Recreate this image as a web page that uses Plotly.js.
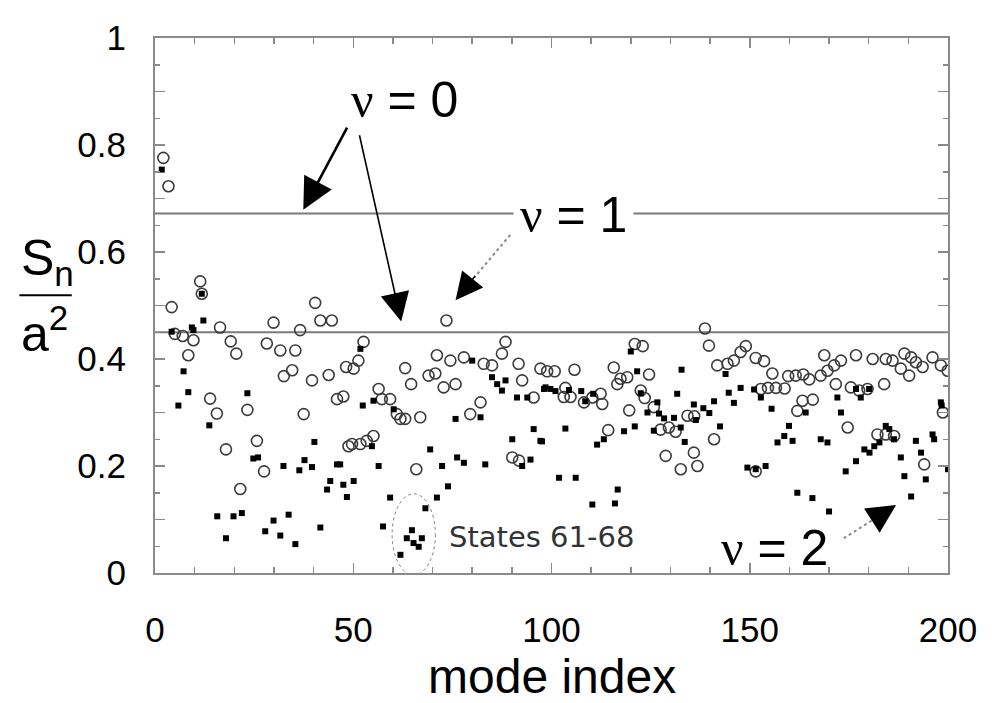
<!DOCTYPE html>
<html>
<head>
<meta charset="utf-8">
<script src="https://cdn.plot.ly/plotly-3.0.1.min.js"></script>
<style>html,body{margin:0;padding:0;background:#fff;}#chart{width:996px;height:703px;}</style>
</head>
<body>
<div id="chart"></div>
<script>
// open circles (mode index, S_n/a^2)
const circleX = [2.1,3.4,11.4,11.8,4.2,40.4,41.7,44.6,29.9,36.6,16.4,5,7,9.7,8.4,13.9,15.6,17.9,21.5,19.1,20.5,23.3,25.7,27.5,28.2,31.6,35.4,32.5,34.6,39.6,43.8,48.2,37.5,45.9,47.5,48.8,
73.5,52.6,51.3,50.1,56.4,57.2,59.3,61.0,61.9,63.1,66.9,63.1,64.6,69.0,70.7,71.1,74.5,77.9,72.8,75.8,79.5,82.1,82.9,85.0,87.5,88.4,91.7,92.6,95.5,97.2,49.7,51.8,53.4,55.1,65.9,90.1,91.8,
138.7,139.7,98.9,100.8,105.8,103.5,103.1,104.8,108.2,110.3,112.8,112.4,121.0,123.0,115.7,124.6,117.4,116.6,119.1,122.5,123.5,119.6,125.8,127.5,129.6,131.3,134.3,136.0,141.0,128.8,135.9,132.6,136.8,114.3,
141.8,144.4,146.0,147.7,149.0,151.5,153.6,155.7,159.7,161.6,163.5,165.0,167.9,169.6,171.3,173.0,168.8,176.8,181.0,184.3,186.0,189.0,190.7,191.9,188.1,190.2,193.6,196.1,198.2,199.9,
171.7,175.5,177.6,179.7,183.9,152.8,154.6,156.6,158.8,165.9,163.3,162.0,174.7,182.2,184.3,186.4,151.5,194.0,198.7];
const circleY = [0.776,0.723,0.545,0.522,0.497,0.505,0.472,0.472,0.468,0.454,0.459,0.447,0.443,0.435,0.407,0.326,0.298,0.231,0.157,0.433,0.410,0.305,0.247,0.190,0.429,0.416,0.416,0.368,0.379,0.360,0.370,0.385,0.297,0.325,0.330,0.237,
0.472,0.432,0.397,0.382,0.344,0.325,0.325,0.297,0.288,0.288,0.291,0.383,0.353,0.369,0.373,0.407,0.397,0.403,0.347,0.353,0.297,0.319,0.391,0.388,0.410,0.432,0.391,0.360,0.328,0.382,0.241,0.241,0.247,0.256,0.194,0.216,0.210,
0.457,0.425,0.377,0.377,0.380,0.346,0.329,0.329,0.319,0.328,0.316,0.335,0.428,0.424,0.384,0.371,0.363,0.353,0.366,0.341,0.327,0.304,0.310,0.268,0.272,0.264,0.294,0.293,0.250,0.219,0.225,0.194,0.200,0.267,
0.388,0.391,0.397,0.413,0.424,0.402,0.396,0.373,0.368,0.369,0.371,0.362,0.369,0.378,0.388,0.397,0.407,0.407,0.400,0.400,0.397,0.410,0.403,0.394,0.382,0.369,0.385,0.403,0.388,0.378,
0.353,0.347,0.341,0.344,0.353,0.344,0.346,0.346,0.345,0.324,0.322,0.303,0.272,0.259,0.259,0.256,0.190,0.203,0.300];

// filled squares
const squareX = [1.7,11.8,12.2,9.3,4.2,9.7,7.2,8.4,5.9,13.7,15.7,19.8,21.9,17.9,23.3,24.8,26.0,40.2,32.4,36.4,37.7,39.6,45.9,44.2,43.4,47.5,48.4,29.9,33.7,27.8,31.6,35.4,41.7,
51.8,52.4,55.1,60.2,80.0,75.8,82.1,85.0,86.3,87.5,88.4,91.3,93.9,98.5,54.7,46.7,50.1,56.4,59.3,57.5,69.4,72.4,73.9,71.1,76.2,77.9,83.3,68.2,64.8,63.5,67.3,65.2,66.5,61.9,90.1,97.2,95.5,92.6,94.7,
120.0,121.6,132.8,98.1,99.7,101.0,104.4,107.5,110.5,108.5,122.5,126.7,124.2,127.1,128.4,130.9,131.7,135.9,138.3,139.8,141.0,125.8,132.6,133.6,142.5,113.2,111.5,118.3,121.0,103.5,97.6,101.9,106.1,110.3,116.0,116.7,149.4,144.7,147.7,146.0,143.9,136.4,
151.1,152.8,155.5,164.1,172.1,173.0,176.8,178.0,180.1,159.9,158.7,157.0,160.8,167.9,169.6,151.5,154.0,162.0,165.8,170.0,174.2,176.8,178.9,180.2,181.4,182.7,184.3,185.2,186.4,188.1,189.0,190.7,191.9,193.2,194.4,196.1,196.5,198.2,198.4,200.0];
const squareY = [0.754,0.522,0.472,0.459,0.451,0.454,0.377,0.338,0.313,0.276,0.106,0.106,0.112,0.065,0.336,0.214,0.216,0.245,0.200,0.192,0.211,0.198,0.203,0.172,0.156,0.165,0.142,0.098,0.109,0.078,0.070,0.054,0.085,
0.419,0.313,0.322,0.306,0.397,0.288,0.291,0.366,0.353,0.341,0.360,0.328,0.328,0.347,0.237,0.203,0.172,0.200,0.141,0.087,0.231,0.200,0.162,0.141,0.216,0.206,0.203,0.121,0.080,0.065,0.065,0.056,0.049,0.034,0.250,0.247,0.269,0.200,0.212,
0.414,0.377,0.380,0.344,0.344,0.340,0.342,0.340,0.335,0.321,0.336,0.319,0.300,0.298,0.289,0.290,0.335,0.315,0.308,0.299,0.321,0.266,0.272,0.245,0.274,0.250,0.240,0.265,0.274,0.270,0.246,0.178,0.178,0.128,0.130,0.156,0.197,0.337,0.346,0.318,0.372,0.286,
0.343,0.328,0.307,0.300,0.328,0.300,0.344,0.328,0.344,0.275,0.256,0.244,0.247,0.250,0.244,0.194,0.200,0.150,0.140,0.115,0.190,0.209,0.231,0.225,0.237,0.244,0.275,0.269,0.250,0.216,0.181,0.143,0.247,0.225,0.175,0.259,0.250,0.319,0.313,0.194];

// reference levels
const levelY = [0.672, 0.450];
const xTickVals = [0, 50, 100, 150, 200];
const yTickVals = [0, 0.1, 0.2, 0.3, 0.4, 0.5, 0.6, 0.7, 0.8, 0.9, 1];
const yTickText = ["0", "", "0.2", "", "0.4", "", "0.6", "", "0.8", "", "1"];

const nu = '<span style="font-family:\'Liberation Serif\',\'DejaVu Serif\',serif">ν</span>';
const sans = 'Liberation Sans, Arial, sans-serif';

const traces = [
  {
    x: circleX, y: circleY, type: 'scatter', mode: 'markers',
    marker: {symbol: 'circle-open', size: 11, color: '#3c3c3c', line: {width: 1.6, color: '#3c3c3c'}},
    hoverinfo: 'x+y', showlegend: false
  },
  {
    x: squareX, y: squareY, type: 'scatter', mode: 'markers',
    marker: {symbol: 'square', size: 6, color: '#000'},
    hoverinfo: 'x+y', showlegend: false
  }
];

const shapes = levelY.map(v => ({
  type: 'line', xref: 'x', yref: 'y', x0: 0, x1: 200, y0: v, y1: v,
  line: {color: '#7a7a7a', width: 2}, layer: 'below'
}));
shapes.push({type: 'circle', xref: 'x', yref: 'y', x0: 59.8, x1: 70.7, y0: -0.004, y1: 0.148,
  line: {color: '#808080', width: 1, dash: 'dot'}});
// fraction bar for y title
shapes.push({type: 'line', xref: 'paper', yref: 'paper', x0: -0.171, x1: -0.105, y0: 0.519, y1: 0.519,
  line: {color: '#000', width: 2}});
// dotted arrow shafts
shapes.push({type: 'line', xref: 'x', yref: 'y', x0: 89.6, y0: 0.632, x1: 80.6, y1: 0.553,
  line: {color: '#8a8a8a', width: 2, dash: 'dot'}});
shapes.push({type: 'line', xref: 'x', yref: 'y', x0: 173.7, y0: 0.065, x1: 181.0, y1: 0.099,
  line: {color: '#8a8a8a', width: 2, dash: 'dot'}});

const annotations = [
  {xref: 'x', yref: 'y', x: 62.9, y: 0.884, xanchor: 'center', yanchor: 'middle', text: nu + ' = 0', showarrow: false,
   font: {family: sans, size: 50, color: '#000'}},
  {xref: 'x', yref: 'y', x: 105.6, y: 0.669, xanchor: 'center', yanchor: 'middle', text: nu + ' = 1', showarrow: false, bgcolor: '#fff', borderpad: 6,
   font: {family: sans, size: 50, color: '#000'}},
  {xref: 'x', yref: 'y', x: 156.3, y: 0.047, xanchor: 'center', yanchor: 'middle', text: nu + ' = 2', showarrow: false,
   font: {family: sans, size: 50, color: '#000'}},
  {xref: 'x', yref: 'y', x: 73.7, y: 0.067, xanchor: 'left', yanchor: 'middle', text: 'States 61-68', showarrow: false,
   font: {family: 'DejaVu Sans, sans-serif', size: 29, color: '#333'}},
  // arrows
  {xref: 'x', yref: 'y', axref: 'x', ayref: 'y', x: 37.4, y: 0.679, ax: 49.2, ay: 0.843, text: ' ',
   showarrow: true, arrowhead: 2, arrowsize: 2.4, arrowwidth: 2.6, arrowcolor: '#000'},
  {xref: 'x', yref: 'y', axref: 'x', ayref: 'y', x: 62.1, y: 0.470, ax: 51.0, ay: 0.837, text: ' ',
   showarrow: true, arrowhead: 2, arrowsize: 3.6, arrowwidth: 1.6, arrowcolor: '#000'},
  {xref: 'x', yref: 'y', axref: 'x', ayref: 'y', x: 75.8, y: 0.510, ax: 81.5, ay: 0.562, text: ' ',
   showarrow: true, arrowhead: 2, arrowsize: 3.4, arrowwidth: 1.6, arrowcolor: '#000'},
  {xref: 'x', yref: 'y', axref: 'x', ayref: 'y', x: 186.9, y: 0.127, ax: 180.4, ay: 0.096, text: ' ',
   showarrow: true, arrowhead: 2, arrowsize: 3.6, arrowwidth: 1.6, arrowcolor: '#000'},
  // axis titles
  {xref: 'paper', yref: 'paper', x: 0.5, y: -0.193, xanchor: 'center', yanchor: 'middle', text: 'mode index', showarrow: false,
   font: {family: sans, size: 48, color: '#000'}},
  {xref: 'paper', yref: 'paper', x: -0.136, y: 0.582, xanchor: 'center', yanchor: 'middle', text: 'S<sub>n</sub>', showarrow: false,
   font: {family: sans, size: 50, color: '#000'}},
  {xref: 'paper', yref: 'paper', x: -0.139, y: 0.455, xanchor: 'center', yanchor: 'middle', text: 'a<sup>2</sup>', showarrow: false,
   font: {family: sans, size: 50, color: '#000'}}
];

const axisCommon = {
  showline: true, mirror: 'allticks', linecolor: '#8a8a8a', linewidth: 2,
  ticks: 'inside', tickcolor: '#8a8a8a', tickwidth: 1.5,
  showgrid: false, zeroline: false, fixedrange: true,
  tickfont: {family: sans, size: 35, color: '#000'}
};

const layout = {
  width: 996, height: 703,
  margin: {l: 155, r: 48, t: 38, b: 130},
  paper_bgcolor: '#fff', plot_bgcolor: '#fff',
  xaxis: Object.assign({}, axisCommon, {
    range: [0, 200], tickmode: 'array', tickvals: xTickVals, ticklen: 10,
    ticklabelstandoff: 25,
    minor: {dtick: 10, ticklen: 6, ticks: 'inside', tickcolor: '#8a8a8a', showgrid: false}
  }),
  yaxis: Object.assign({}, axisCommon, {
    range: [0, 1], tickmode: 'array', tickvals: yTickVals, ticktext: yTickText, ticklen: 10,
    ticklabelstandoff: 20,
    minor: {dtick: 0.05, ticklen: 5, ticks: 'inside', tickcolor: '#8a8a8a', showgrid: false}
  }),
  shapes: shapes,
  annotations: annotations,
  showlegend: false
};

Plotly.newPlot('chart', traces, layout, {staticPlot: true, displayModeBar: false});
</script>
</body>
</html>
